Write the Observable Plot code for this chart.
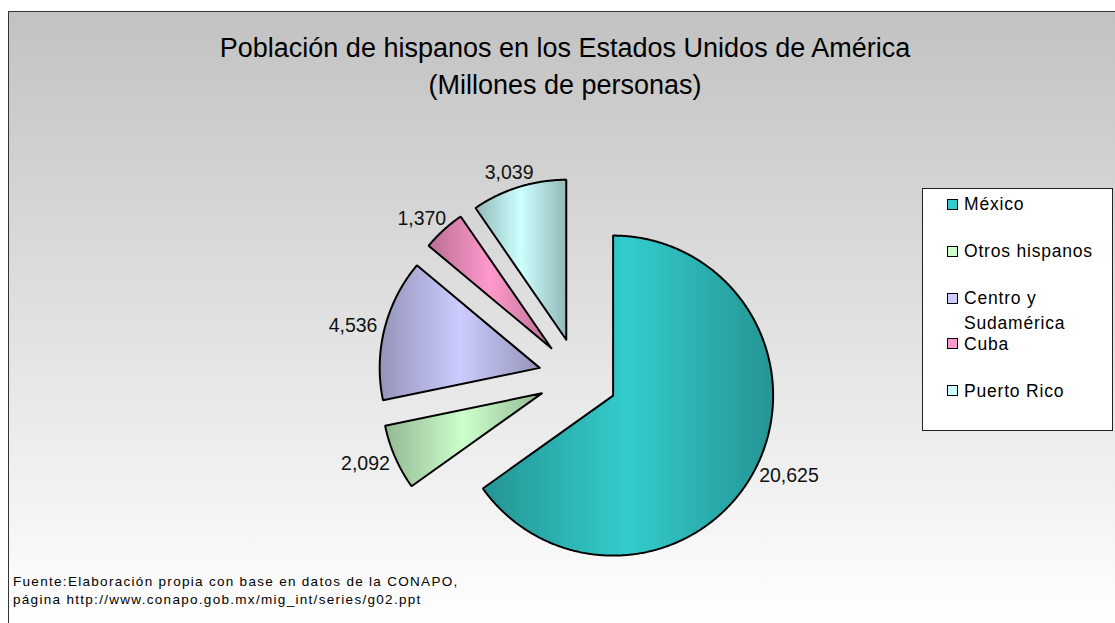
<!DOCTYPE html>
<html>
<head>
<meta charset="utf-8">
<script src="https://cdn.jsdelivr.net/npm/d3@7"></script>
<script src="https://cdn.jsdelivr.net/npm/@observablehq/plot@0.6"></script>
<style>
  html, body { margin: 0; padding: 0; background: #fff; overflow: hidden; }
  body { width: 1115px; height: 623px; position: relative; font-family: "Liberation Sans", Arial, sans-serif; color: #000; }
  #frame { position: absolute; left: 8px; top: 11px; width: 1130px; height: 640px;
           border-left: 1.5px solid #333; border-top: 1.5px solid #333;
           background: linear-gradient(to bottom, #c2c2c2 0%, #ffffff 96%); }
  #chart { position: absolute; left: 0; top: 0; }
  #title { position: absolute; left: 65px; width: 1000px; top: 30px; text-align: center;
           font-size: 27px; line-height: 37px; }
  #legend { position: absolute; left: 922px; top: 188px; width: 189px; height: 241px;
            border: 1px solid #222; background: #fff; }
  .li { position: absolute; font-size: 17.5px; letter-spacing: 0.8px; line-height: 20px; white-space: nowrap; }
  .sw { position: absolute; width: 9px; height: 9px; border: 1px solid #000; }
  #source { position: absolute; left: 13px; top: 573px; font-size: 13.5px; line-height: 18px;
            letter-spacing: 1.3px; white-space: nowrap; }
</style>
</head>
<body>
<div id="frame"></div>
<div id="chart"></div>
<div id="title"></div>
<div id="legend"></div>
<div id="source"></div>
<script>
// ---------- data ----------
const categories = ["México", "Otros hispanos", "Centro y Sudamérica", "Cuba", "Puerto Rico"];
const values = [20625, 2092, 4536, 1370, 3039];
const legendLines = [["México"], ["Otros hispanos"], ["Centro y", "Sudamérica"], ["Cuba"], ["Puerto Rico"]];
const colors = ["#33cccc", "#ccffcc", "#ccccff", "#ff99cc", "#ccffff"];
const titleLines = ["Población de hispanos en los Estados Unidos de América", "(Millones de personas)"];
const sourceLines = ["Fuente:Elaboración propia con base en datos de la CONAPO,",
                     "página http://www.conapo.gob.mx/mig_int/series/g02.ppt"];

// ---------- layout ----------
const W = 1115, H = 623;
const CX = 577.5, CY = 377, R = 160;     // pie centre & radius in px
const EXPLODE = 39.5 / R;               // explosion distance (in radius units)
const LABEL_SIZE = 19.5, LABEL_GAP = 8 / R, LABEL_H = 14;

const fmt = d3.format(",");
const arcs = d3.pie().sort(null).value(d => d).startAngle(0).endAngle(2 * Math.PI)(values);

const ctx = document.createElement("canvas").getContext("2d");
ctx.font = `${LABEL_SIZE}px "Liberation Sans", Arial, sans-serif`;

const slices = arcs.map((a, i) => {
  const mid = (a.startAngle + a.endAngle) / 2;
  const sx = Math.sin(mid), sy = Math.cos(mid);
  const ox = EXPLODE * sx, oy = EXPLODE * sy;
  const pts = [{x: ox, y: oy}];
  const n = Math.max(12, Math.ceil((a.endAngle - a.startAngle) / 0.008));
  for (let k = 0; k <= n; k++) {
    const t = a.startAngle + (a.endAngle - a.startAngle) * k / n;
    pts.push({x: ox + Math.sin(t), y: oy + Math.cos(t)});
  }
  pts.push({x: ox, y: oy});
  const label = fmt(values[i]);
  const w = ctx.measureText(label).width;
  return {
    i, pts, label,
    lx: ox + (1 + LABEL_GAP) * sx + sx * (w / 2) / R,
    ly: oy + (1 + LABEL_GAP) * sy + sy * (LABEL_H / 2) / R
  };
});

const gradId = i => `slice-grad-${i}`;

const plot = Plot.plot({
  width: W, height: H,
  margin: 0,
  x: {axis: null, domain: [-CX / R, (W - CX) / R]},
  y: {axis: null, domain: [-(H - CY) / R, CY / R]},
  style: {background: "transparent", overflow: "visible"},
  marks: [
    ...slices.map(s => Plot.line(s.pts, {
      x: "x", y: "y", fill: `url(#${gradId(s.i)})`, stroke: "#000",
      strokeWidth: 2, strokeLinejoin: "miter"
    })),
    Plot.text(slices, {
      x: "lx", y: "ly", text: "label", fill: "#111",
      fontSize: LABEL_SIZE, fontFamily: "Liberation Sans, Arial, sans-serif",
      textAnchor: "middle", lineAnchor: "middle"
    })
  ]
});

// gradients (horizontal: darker edges, full colour in the middle)
const NS = "http://www.w3.org/2000/svg";
const defs = document.createElementNS(NS, "defs");
colors.forEach((c, i) => {
  const g = document.createElementNS(NS, "linearGradient");
  g.setAttribute("id", gradId(i));
  g.setAttribute("x1", "0"); g.setAttribute("x2", "1");
  g.setAttribute("y1", "0"); g.setAttribute("y2", "0");
  const dark = d3.rgb(c).darker(0.9).formatHex();
  [[0, dark], [0.5, c], [1, dark]].forEach(([o, col]) => {
    const st = document.createElementNS(NS, "stop");
    st.setAttribute("offset", o);
    st.setAttribute("stop-color", col);
    g.appendChild(st);
  });
  defs.appendChild(g);
});
plot.insertBefore(defs, plot.firstChild);
document.getElementById("chart").appendChild(plot);

// title
document.getElementById("title").innerHTML = titleLines.map(t => `<div>${t}</div>`).join("");

// legend
const legendRows = [203, 250, 297, 342.5, 389.5];   // row centres (px, page coords)
const legend = document.getElementById("legend");
const LEFT = 922, TOP = 188;
categories.forEach((cat, i) => {
  const cy = legendRows[i] - TOP;
  const sw = document.createElement("div");
  sw.className = "sw";
  sw.style.left = (946 - LEFT) + "px";
  sw.style.top = (cy - 5.5) + "px";
  sw.style.background = colors[i];
  legend.appendChild(sw);
  legendLines[i].forEach((line, k) => {
    const t = document.createElement("div");
    t.className = "li";
    t.textContent = line;
    t.style.left = (963 - LEFT) + "px";
    t.style.top = (cy - 10 + k * 25) + "px";
    legend.appendChild(t);
  });
});

// source
document.getElementById("source").innerHTML = sourceLines.map(t => `<div>${t}</div>`).join("");
</script>
</body>
</html>
